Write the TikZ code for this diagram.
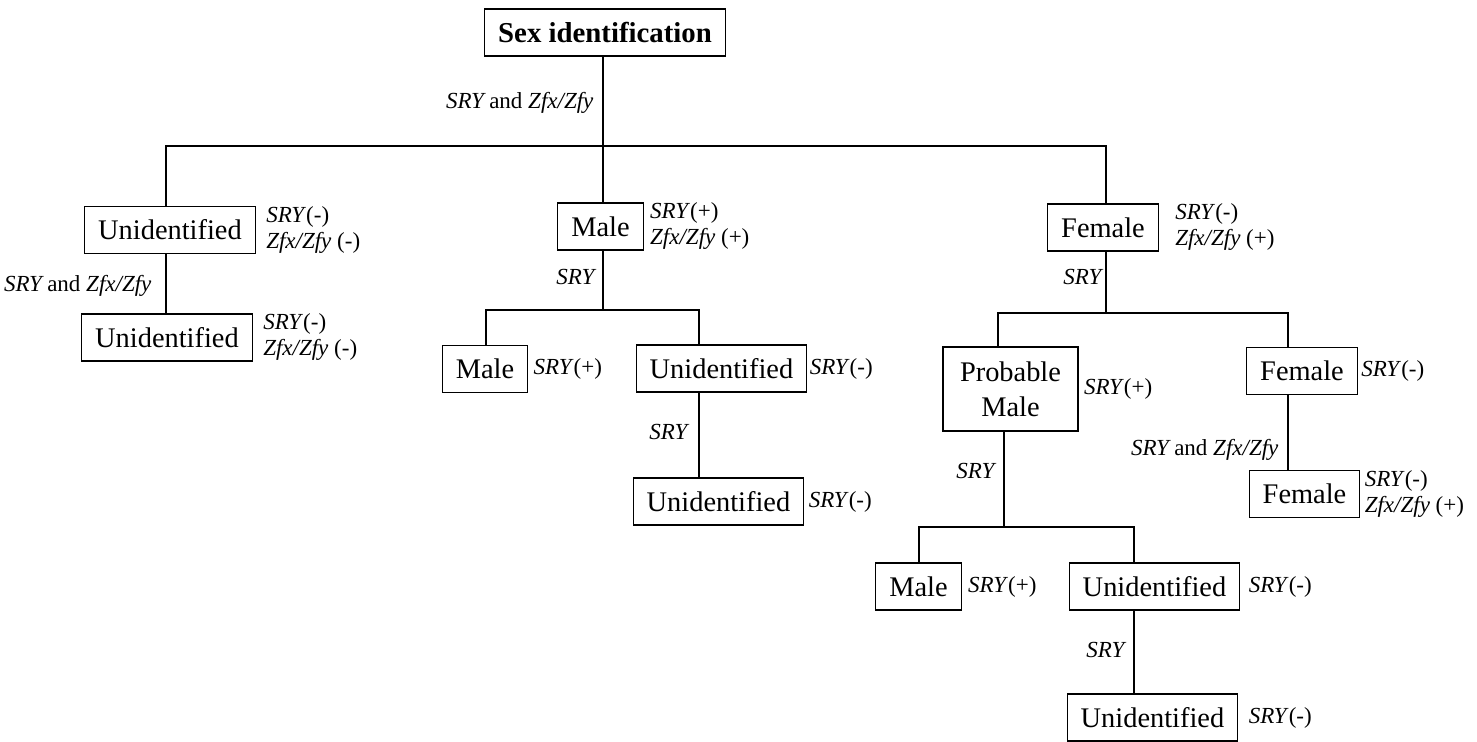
\documentclass[tikz,border=0pt]{standalone}
\usepackage{fontspec}
\setmainfont{Liberation Serif}
\usetikzlibrary{positioning}

\newcommand{\bothgenes}{\textit{SRY}\hspace{0.14em}and \textit{Zfx/Zfy}}

\begin{document}
\begin{tikzpicture}[
  x=0.5pt, y=-0.5pt,
  box/.style = {draw, line width=0.6pt, inner xsep=6.75pt, inner ysep=2pt, minimum height=23.5pt, align=center, font=\fontsize{14.2}{17.5}\selectfont},
  lbl/.style = {inner sep=0pt, align=left, font=\fontsize{11.5}{13}\selectfont},
  link/.style = {line width=0.6pt}
]
  \useasboundingbox (0,0) rectangle (1477,742);

  % Boxes
  \node[box, font=\bfseries\fontsize{14.4}{17.5}\selectfont] (sexid) at (605,32.5) {Sex identification};
  \node[box] (un1) at (170,230) {Unidentified};
  \node[box] (un2) at (167,337.5) {Unidentified};
  \node[box] (ma1) at (600.5,226.5) {Male};
  \node[box] (fe1) at (1103,227.5) {Female};
  \node[box] (ma2) at (485,369) {Male};
  \node[box] (un3) at (721.5,368.5) {Unidentified};
  \node[box] (un4) at (718.5,501.5) {Unidentified};
  \node[box, minimum height=42pt, minimum width=67.5pt] (pm) at (1010.5,389) {Probable\\Male};
  \node[box] (fe2) at (1302,371) {Female};
  \node[box] (fe3) at (1304.5,494) {Female};
  \node[box] (ma3) at (918.5,586.5) {Male};
  \node[box] (un5) at (1154.5,586.5) {Unidentified};
  \node[box] (un6) at (1152.5,717.5) {Unidentified};

  % Results beside the boxes
  \node[lbl, right=5pt of un1] (un1res) {\textit{SRY}(-)\\\textit{Zfx/Zfy} (-)};
  \node[lbl, right=5pt of un2] (un2res) {\textit{SRY}(-)\\\textit{Zfx/Zfy} (-)};
  \node[lbl, right=3pt of ma1] (ma1res) {\textit{SRY}(+)\\\textit{Zfx/Zfy} (+)};
  \node[lbl, right=8pt of fe1] (fe1res) {\textit{SRY}(-)\\\textit{Zfx/Zfy} (+)};
  \node[lbl, right=2.5pt of ma2] (ma2res) {\textit{SRY}(+)};
  \node[lbl, right=1pt of un3] (un3res) {\textit{SRY}(-)};
  \node[lbl, right=2pt of un4] (un4res) {\textit{SRY}(-)};
  \node[lbl, right=2.5pt of pm] (pmres) {\textit{SRY}(+)};
  \node[lbl, right=1.5pt of fe2] (fe2res) {\textit{SRY}(-)};
  \node[lbl, right=2pt of fe3] (fe3res) {\textit{SRY}(-)\\\textit{Zfx/Zfy} (+)};
  \node[lbl, right=3pt of ma3] (ma3res) {\textit{SRY}(+)};
  \node[lbl, right=4pt of un5] (un5res) {\textit{SRY}(-)};
  \node[lbl, right=5pt of un6] (un6res) {\textit{SRY}(-)};

  % Junctions
  \coordinate (j0) at (603,146);
  \coordinate (j0l) at (166,146);
  \coordinate (j0r) at (1106,146);
  \coordinate (j1) at (603,310);
  \coordinate (j1l) at (486,310);
  \coordinate (j1r) at (699,310);
  \coordinate (j2) at (1106,313);
  \coordinate (j2l) at (998,313);
  \coordinate (j2r) at (1288,313);
  \coordinate (j3) at (1004,527);
  \coordinate (j3l) at (919,527);
  \coordinate (j3r) at (1134,527);

  % Connectors
  \draw[link] (sexid.south -| j0) -- (j0) node[lbl, pos=0.52, left=4.5pt] (t0) {\bothgenes};
  \draw[link] (un1.north -| j0l) |- (j0r) -- (fe1.north -| j0r);
  \draw[link] (j0) -- (ma1.north -| j0);
  \draw[link] (un1.south -| j0l) -- (un2.north -| j0l) node[lbl, pos=0.53, left=7pt] (t1) {\bothgenes};

  \draw[link] (ma1.south -| j1) -- (j1) node[lbl, pos=0.45, left=3pt] (t2) {\textit{SRY}};
  \draw[link] (ma2.north -| j1l) |- (j1r) -- (un3.north -| j1r);
  \draw[link] (un3.south -| j1r) -- (un4.north -| j1r) node[lbl, pos=0.47, left=4.5pt] (t3) {\textit{SRY}};

  \draw[link] (fe1.south -| j2) -- (j2) node[lbl, pos=0.42, left=1pt] (t4) {\textit{SRY}};
  \draw[link] (pm.north -| j2l) |- (j2r) -- (fe2.north -| j2r);
  \draw[link] (fe2.south -| j2r) -- (fe3.north -| j2r) node[lbl, pos=0.73, left=4.5pt] (t5) {\bothgenes};

  \draw[link] (pm.south -| j3) -- (j3) node[lbl, pos=0.41, left=3.5pt] (t6) {\textit{SRY}};
  \draw[link] (ma3.north -| j3l) |- (j3r) -- (un5.north -| j3r);
  \draw[link] (un5.south -| j3r) -- (un6.north -| j3r) node[lbl, pos=0.47, left=3.5pt] (t7) {\textit{SRY}};

\end{tikzpicture}
\end{document}
